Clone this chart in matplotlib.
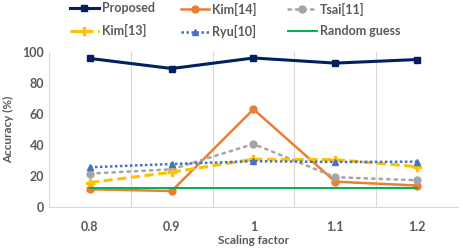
import matplotlib.pyplot as plt

scales = ['0.8', '0.9', '1', '1.1', '1.2']
proposed = [96, 89.5, 96.3, 93, 95.3]
kim14 = [11.6, 10.5, 63.2, 16.5, 14]
tsai11 = [21.7, 24.5, 40.8, 19.4, 17.4]
kim13 = [15.9, 22.6, 31, 30.7, 26.2]
ryu10 = [25.8, 27.9, 29.7, 29.2, 29.4]
random_guess = [12.5, 12.5, 12.5, 12.5, 12.5]

plt.rcParams['font.family'] = ['Lato', 'DejaVu Sans']
txt = '#595959'

fig = plt.figure(figsize=(4.63, 2.5), dpi=100)
ax = fig.add_axes([0.106, 0.171, 0.883, 0.62])

x = list(range(len(scales)))
h1, = ax.plot(x, proposed, color='#002060', lw=2.2, marker='s', ms=5, label='Proposed')
h2, = ax.plot(x, kim14, color='#ED7D31', lw=1.8, marker='o', ms=5, label='Kim[14]')
h3, = ax.plot(x, tsai11, color='#A5A5A5', lw=1.8, ls=(0, (1, 2)), dash_capstyle='round',
              marker='o', ms=5, label='Tsai[11]')
h4, = ax.plot(x, kim13, color='#FFC000', lw=2.2, ls=(0, (3, 1.5)), marker='P', ms=5.5, label='Kim[13]')
h5, = ax.plot(x, ryu10, color='#4472C4', lw=1.8, ls=(0, (1, 1)), marker='^', ms=5, label='Ryu[10]')
h6, = ax.plot(x, random_guess, color='#00B050', lw=1.4, label='Random guess')

ax.set_xlim(-0.5, len(scales) - 0.5)
ax.set_ylim(0, 100)
ax.set_xticks(x)
ax.set_xticklabels(scales)
ax.set_yticks([0, 20, 40, 60, 80, 100])
ax.set_xticks([i + 0.5 for i in range(-1, len(scales))], minor=True)
ax.grid(True, which='minor', axis='x', color='#D9D9D9', lw=0.8)
ax.tick_params(which='both', length=0)
ax.tick_params(axis='x', pad=10)
for lab in ax.get_xticklabels() + ax.get_yticklabels():
    lab.set_color(txt)
    lab.set_fontweight('bold')
    lab.set_fontsize(9)
for s in ['top', 'right', 'left']:
    ax.spines[s].set_visible(False)
ax.spines['bottom'].set_color('#D9D9D9')

ax.set_xlabel('Scaling factor', color=txt, fontweight='bold', fontsize=8.5, labelpad=1)
ax.set_ylabel('Accuracy (%)', color=txt, fontweight='bold', fontsize=8.5, labelpad=6)

# one legend per column so the columns sit at even spacing
cols = [(0.151, [h1, h4]), (0.39, [h2, h5]), (0.622, [h3, h6])]
for xpos, hs in cols:
    leg = fig.legend(hs, [h.get_label() for h in hs], loc='upper left',
                     bbox_to_anchor=(xpos, 0.99), frameon=False, borderpad=0,
                     borderaxespad=0, fontsize=9, handlelength=2.3, handletextpad=0.25,
                     labelspacing=0.75)
    for t in leg.get_texts():
        t.set_color(txt)
        t.set_fontweight('bold')

fig.savefig('out.png', dpi=100)
